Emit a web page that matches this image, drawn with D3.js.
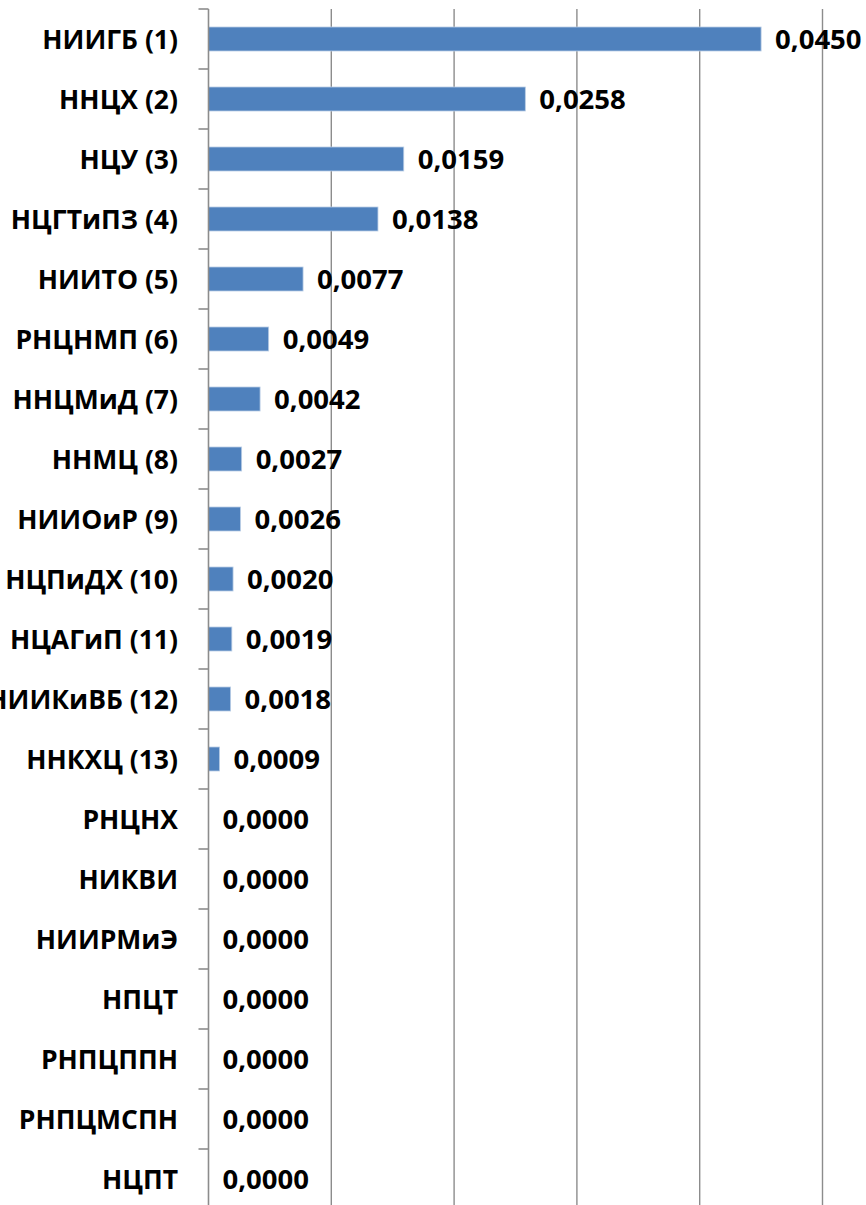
<!DOCTYPE html>
<html><head><meta charset="utf-8">
<script src="https://cdn.jsdelivr.net/npm/d3@7"></script>
<style>html,body{margin:0;padding:0;background:#fff;overflow:hidden}</style>
</head><body>
<svg id="chart" width="866" height="1205"></svg>
<script>
const categories = ["НИИГБ (1)","ННЦХ (2)","НЦУ (3)","НЦГТиПЗ (4)","НИИТО (5)","РНЦНМП (6)","ННЦМиД (7)","ННМЦ (8)","НИИОиР (9)","НЦПиДХ (10)","НЦАГиП (11)","НИИКиВБ (12)","ННКХЦ (13)","РНЦНХ","НИКВИ","НИИРМиЭ","НПЦТ","РНПЦППН","РНПЦМСПН","НЦПТ"];
const values = [0.0450,0.0258,0.0159,0.0138,0.0077,0.0049,0.0042,0.0027,0.0026,0.0020,0.0019,0.0018,0.0009,0,0,0,0,0,0,0];
const valueLabels = ["0,0450","0,0258","0,0159","0,0138","0,0077","0,0049","0,0042","0,0027","0,0026","0,0020","0,0019","0,0018","0,0009","0,0000","0,0000","0,0000","0,0000","0,0000","0,0000","0,0000"];
const xTicks = [0,0.01,0.02,0.03,0.04,0.05];

(function(){
const svg = d3.select("#chart");
const pLeft = 208.5, pRight = 822.5, pTop = 9, band = 60;
const pBottom = pTop + band*categories.length;
const x = d3.scaleLinear().domain([0,0.05]).range([pLeft,pRight]);
const yb = d3.scaleBand().domain(categories).range([pTop, pBottom]);
const font = "'Open Sans', 'Liberation Sans', Arial, sans-serif";

// gridlines
svg.append("g").selectAll("line").data(xTicks.slice(1)).join("line")
  .attr("x1", d => x(d)).attr("x2", d => x(d))
  .attr("y1", pTop).attr("y2", pBottom)
  .attr("stroke", "#8c8c8c").attr("stroke-width", 1.4);

// bars
svg.append("g").selectAll("rect").data(categories).join("rect")
  .attr("x", pLeft)
  .attr("y", d => yb(d) + band/2 - 12)
  .attr("width", (d,i) => x(values[i]) - pLeft)
  .attr("height", 24)
  .attr("fill", "#4f81bd")
  .attr("stroke", (d,i) => values[i] > 0 ? "#b9cde5" : "none")
  .attr("stroke-width", 0.8);

// y axis line and ticks
const yAxisG = svg.append("g");
yAxisG.append("line").attr("x1", pLeft).attr("x2", pLeft).attr("y1", pTop).attr("y2", pBottom)
  .attr("stroke", "#8c8c8c").attr("stroke-width", 1.6);
const bounds = d3.range(categories.length + 1).map(i => pTop + i*band);
yAxisG.selectAll("line.tick").data(bounds).join("line").attr("class","tick")
  .attr("x1", pLeft - 10).attr("x2", pLeft).attr("y1", d => d).attr("y2", d => d)
  .attr("stroke", "#8c8c8c").attr("stroke-width", 1.6);

// category labels
svg.append("g").selectAll("text").data(categories).join("text")
  .attr("x", 178).attr("y", d => yb(d) + band/2)
  .attr("dy", "0.36em").attr("text-anchor", "end")
  .attr("font-family", font).attr("font-weight", "bold").attr("font-size", 26.5)
  .attr("fill", "#000").text(d => d);

// value labels
svg.append("g").selectAll("text").data(categories).join("text")
  .attr("x", (d,i) => x(values[i]) + 14).attr("y", d => yb(d) + band/2)
  .attr("dy", "0.36em")
  .attr("font-family", font).attr("font-weight", "bold").attr("font-size", 27.5)
  .attr("fill", "#000").text((d,i) => valueLabels[i]);
})();
</script>
</body></html>
